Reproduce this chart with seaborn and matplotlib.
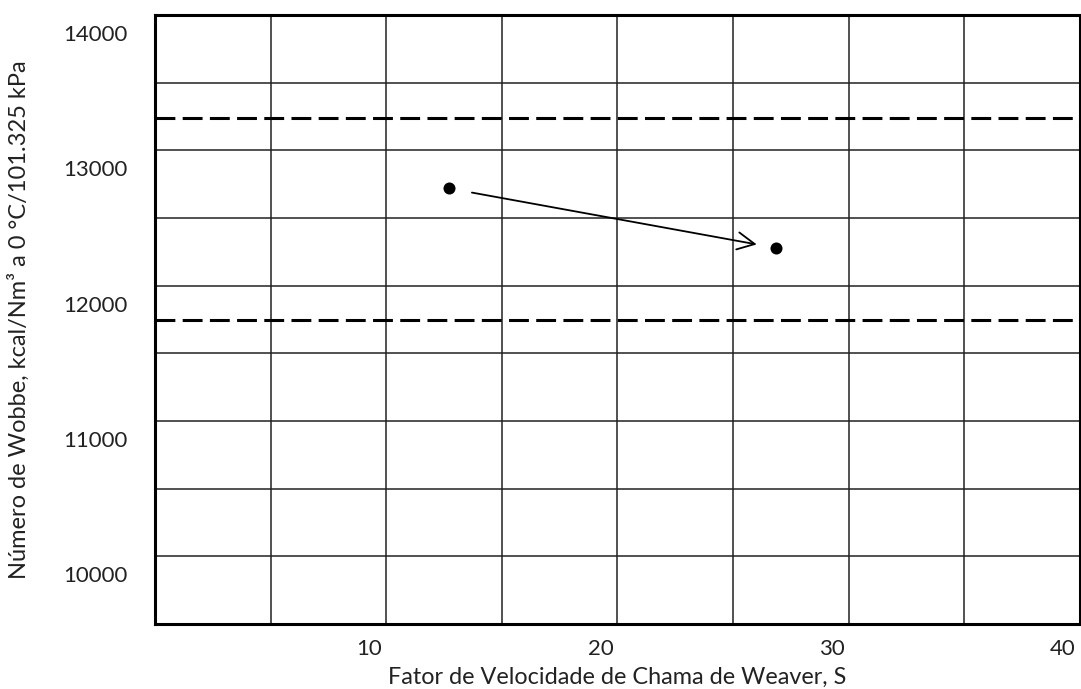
import matplotlib.pyplot as plt
import matplotlib.transforms as mtransforms
import pandas as pd
import seaborn as sns

# fator de velocidade de chama (S) e numero de Wobbe dos dois gases
fator_s = [12.7, 26.85]
wobbe = [12720, 12280]

# limites da faixa de especificacao (linhas tracejadas)
limites_wobbe = [13240, 11745]

x_ticks = [10, 20, 30, 40]
x_grid = [5, 15, 25, 35]
y_ticks = [10000, 11000, 12000, 13000, 14000]
y_grid = [10500, 11500, 12500, 13500]

sns.set_style("white")
plt.rcParams["font.family"] = ["Lato", "DejaVu Sans"]

fig, ax = plt.subplots(figsize=(10.81, 6.89), dpi=100)
fig.subplots_adjust(left=0.1434, right=0.999, top=0.978, bottom=0.0943)

df = pd.DataFrame({"S": fator_s, "W": wobbe})
sns.scatterplot(data=df, x="S", y="W", color="black", s=75,
                edgecolor="black", linewidth=0, ax=ax, zorder=4)

for lim in limites_wobbe:
    ax.axhline(lim, color="black", lw=2.2, dashes=(6.5, 2.4), zorder=3)

ax.annotate("", xy=(fator_s[1], wobbe[1]), xytext=(fator_s[0], wobbe[0]),
            arrowprops=dict(arrowstyle="->,head_length=0.4,head_width=0.2",
                            color="black", lw=1.3, shrinkA=17, shrinkB=14,
                            mutation_scale=31), zorder=4)

ax.set_xlim(0, 40)
ax.set_ylim(9500, 14000)
ax.set_xticks(x_ticks)
ax.set_xticks(x_grid, minor=True)
ax.set_yticks(y_ticks)
ax.set_yticks(y_grid, minor=True)
ax.grid(True, which="both", color="#222222", lw=1.1, zorder=1)
ax.set_axisbelow(True)

ax.tick_params(axis="both", which="both", length=0, labelsize=16, colors="#222222")
ax.tick_params(axis="x", pad=11)
ax.tick_params(axis="y", pad=20)

# rotulos deslocados como no grafico original
for lab in ax.get_xticklabels():
    lab.set_transform(lab.get_transform() +
                      mtransforms.ScaledTranslation(-0.17, 0, fig.dpi_scale_trans))
for lab in ax.get_yticklabels():
    lab.set_transform(lab.get_transform() +
                      mtransforms.ScaledTranslation(0, -0.18, fig.dpi_scale_trans))

for sp in ax.spines.values():
    sp.set_linewidth(2.2)
    sp.set_color("black")

ax.set_xlabel("Fator de Velocidade de Chama de Weaver, S", fontsize=16.8, color="#222222")
ax.set_ylabel("Número de Wobbe, kcal/Nm³ a 0 °C/101.325 kPa", fontsize=17, color="#222222")
ax.xaxis.set_label_coords(0.5, -0.07)
ax.yaxis.set_label_coords(-0.135, 0.5)

fig.savefig("out.png", dpi=100)
